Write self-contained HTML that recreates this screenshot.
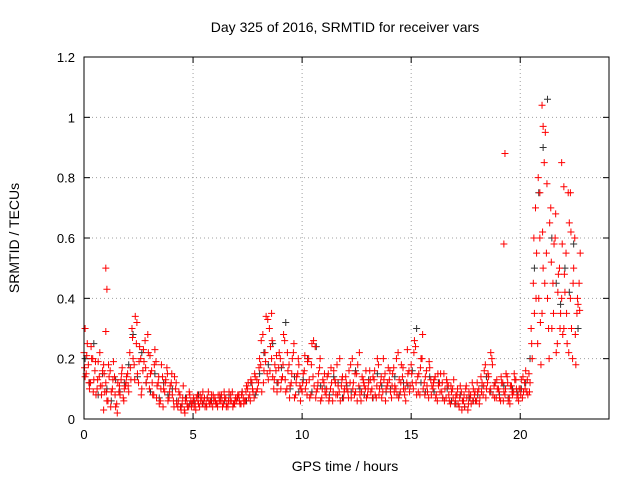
<!DOCTYPE html>
<html><head><meta charset="utf-8"><style>
body{margin:0;background:#fff}
svg{display:block;font-family:"Liberation Sans",sans-serif}
</style></head><body>
<svg id="chart" width="640" height="480">
<text x="345" y="32" font-size="14" text-anchor="middle">Day 325 of 2016, SRMTID for receiver vars</text>
<text x="345" y="471" font-size="14" text-anchor="middle">GPS time / hours</text>
<text transform="translate(19,238) rotate(-90)" font-size="14" text-anchor="middle">SRMTID / TECUs</text>
<g id="grid"></g><g id="ticks"></g><g id="marks"></g>
<rect x="84" y="57" width="525" height="362" fill="none" stroke="#000"/>
</svg>
<script>
const xTicks=[0,5,10,15,20];
const yTicks=[0,0.2,0.4,0.6,0.8,1,1.2];
const yTickLabels=["0","0.2","0.4","0.6","0.8","1","1.2"];
const step=0.1;
const redA=[.22,.15,.18,.12,.20,.16,.10,.14,.08,.18,.12,.06,.16,.10,.14,.05,.09,.13,.07,.11,.15,.22,.30,.18,.25,.12,.20,.16,.26,.14,.10,.16,.08,.19,.12,.06,.14,.09,.17,.07,.12,.06,.10,.04,.08,.05,.03,.07,.04,.06,.06,.05,.08,.04,.07,.06,.05,.09,.06,.04,.07,.05,.06,.08,.05,.07,.04,.06,.09,.05,.06,.08,.05,.07,.06,.10,.08,.12,.07,.09,.12,.18,.28,.22,.15,.30,.20,.10,.16,.12,.20,.14,.26,.10,.18,.12,.22,.08,.15,.11,.09,.16,.12,.20,.08,.14,.24,.10,.17,.07,.12,.08,.15,.10,.06,.13,.18,.09,.11,.07,.14,.09,.12,.20,.08,.15,.11,.06,.13,.10,.08,.16,.10,.13,.07,.18,.12,.09,.15,.11,.13,.07,.17,.10,.22,.09,.14,.08,.12,.16,.18,.10,.24,.14,.08,.20,.12,.16,.07,.13,.10,.14,.06,.12,.09,.15,.07,.11,.05,.10,.05,.08,.04,.09,.06,.10,.03,.07,.12,.08,.06,.10,.14,.08,.18,.12,.09,.20,.11,.07,.10,.06,.12,.08,.14,.07,.11,.09,.13,.08,.10,.07,.12,.09,.15,.30,.45,.70,.25,.60,.35,.85,.55,.30,.70,.45,.60,.25,.50,.40,.30,.55,.75,.40,.20,.60,.35,.45];
const redB=[.14,.25,.10,.20,.13,.08,.19,.11,.16,.09,.06,.14,.09,.19,.04,.12,.08,.17,.10,.14,.09,.13,.20,.34,.15,.24,.10,.19,.12,.22,.15,.08,.23,.11,.05,.18,.10,.13,.06,.11,.08,.14,.05,.09,.03,.11,.06,.04,.08,.05,.04,.07,.05,.06,.09,.04,.07,.05,.08,.06,.05,.08,.06,.04,.07,.05,.09,.06,.05,.07,.08,.05,.09,.06,.11,.07,.13,.09,.14,.10,.20,.09,.16,.34,.13,.24,.14,.18,.09,.22,.13,.28,.09,.16,.11,.20,.07,.14,.18,.10,.15,.10,.19,.07,.25,.11,.09,.15,.06,.13,.09,.14,.07,.12,.16,.08,.11,.06,.14,.10,.10,.16,.07,.12,.09,.18,.08,.14,.11,.07,.12,.09,.14,.08,.20,.10,.07,.13,.10,.17,.09,.15,.11,.08,.13,.18,.10,.06,.15,.11,.12,.26,.08,.15,.20,.10,.14,.09,.17,.11,.13,.08,.11,.15,.07,.10,.12,.06,.09,.13,.08,.05,.11,.06,.04,.07,.09,.05,.10,.06,.09,.07,.12,.16,.10,.14,.22,.08,.12,.10,.07,.12,.09,.15,.06,.11,.08,.13,.07,.10,.13,.09,.16,.08,.12,.20,.35,.55,.40,.18,.50,.95,.40,.65,.30,.58,.22,.48,.35,.28,.42,.25,.65,.30,.50,.18,.38,.55];
const redC=[.17,.21,.12,.24,.09,.19,.13,.22,.11,.15,.09,.18,.04,.13,.08,.02,.11,.15,.06,.12,.11,.17,.27,.13,.32,.19,.08,.23,.17,.28,.21,.12,.18,.07,.14,.10,.04,.12,.15,.09,.15,.04,.12,.06,.04,.07,.02,.05,.09,.04,.07,.03,.06,.08,.05,.07,.04,.06,.05,.08,.06,.04,.08,.06,.09,.04,.06,.08,.04,.06,.07,.06,.08,.05,.09,.12,.06,.10,.15,.13,.17,.26,.12,.19,.33,.16,.26,.13,.21,.17,.10,.18,.13,.22,.07,.15,.25,.12,.20,.06,.12,.21,.08,.13,.18,.26,.07,.12,.20,.10,.15,.10,.06,.17,.09,.12,.08,.20,.13,.09,.12,.07,.18,.10,.15,.06,.22,.09,.12,.16,.10,.13,.07,.16,.11,.08,.14,.20,.06,.12,.16,.11,.09,.20,.07,.12,.17,.10,.23,.09,.15,.22,.12,.09,.17,.28,.08,.11,.19,.08,.12,.07,.15,.09,.12,.06,.13,.08,.11,.07,.06,.10,.07,.03,.08,.11,.05,.08,.06,.09,.12,.05,.09,.11,.07,.15,.10,.18,.07,.13,.09,.14,.06,.10,.12,.05,.09,.15,.10,.06,.08,.14,.10,.13,.09,.25,.60,.40,.80,.32,.62,.45,.78,.20,.52,.35,.68,.42,.30,.58,.48,.35,.22,.62,.45,.28,.40,.36];
const blackVals=[.20,.12,.25,.08,.15,.10,.06,.13,.09,.12,.18,.28,.14,.22,.12,.09,.15,.07,.12,.08,.10,.06,.04,.07,.05,.06,.08,.05,.07,.06,.05,.07,.06,.08,.05,.07,.09,.06,.12,.08,.15,.22,.18,.25,.12,.17,.32,.10,.14,.09,.13,.20,.09,.24,.11,.10,.08,.14,.12,.07,.11,.09,.16,.10,.08,.13,.07,.15,.11,.09,.10,.14,.08,.12,.11,.16,.30,.12,.09,.14,.09,.12,.07,.10,.06,.05,.08,.04,.07,.06,.08,.11,.14,.09,.12,.08,.11,.07,.10,.09,.10,.12,.20,.50,.75,.90,1.06,.60,.45,.38,.50,.42,.58,.30];
const outlierHours=[1.0,1.05,19.3,19.25,21.0,21.05,21.9,20.9,22.3,1.0,0.9,22.0,0.05,8.6];
const outlierVals=[.5,.43,.88,.58,1.04,.97,.85,.75,.75,.29,.03,.77,.30,.35];
const L=84,R=609,T=57,B=419,XMAX=24.07,YMAX=1.2;
const sx=h=>L+h/XMAX*(R-L), sy=v=>B-v/YMAX*(B-T);
const NS="http://www.w3.org/2000/svg";
const grid=document.getElementById('grid'),ticks=document.getElementById('ticks'),marks=document.getElementById('marks');
function mk(tag,attrs,parent){const e=document.createElementNS(NS,tag);for(const k in attrs)e.setAttribute(k,attrs[k]);parent.appendChild(e);return e;}
xTicks.forEach(t=>{const x=sx(t);
 if(t>0){const g=mk('line',{x1:x,x2:x,y1:T,y2:B,stroke:'#a0a0a0','stroke-dasharray':'1,3'},grid);
 
 }
 mk('line',{x1:x,x2:x,y1:B,y2:B-6,stroke:'#000'},ticks);mk('line',{x1:x,x2:x,y1:T,y2:T+6,stroke:'#000'},ticks);
 const l=mk('text',{x:x,y:B+20,'font-size':13,'text-anchor':'middle'},ticks);l.textContent=t;
 
 });
yTicks.forEach((t,i)=>{const y=sy(t);
 if(t>0&&t<YMAX){const g=mk('line',{x1:L,x2:R,y1:y,y2:y,stroke:'#a0a0a0','stroke-dasharray':'1,3'},grid);
 
 }
 mk('line',{x1:L,x2:L+6,y1:y,y2:y,stroke:'#000'},ticks);mk('line',{x1:R,x2:R-6,y1:y,y2:y,stroke:'#000'},ticks);
 const l=mk('text',{x:L-9,y:y+5,'font-size':13,'text-anchor':'end'},ticks);l.textContent=yTickLabels[i];
 
 });
function plus(h,v,col,name){const x=sx(h),y=sy(v);
 const p=mk('path',{d:`M${x-3.5} ${y}h7M${x} ${y-3.5}v7`,stroke:col,'stroke-width':1,fill:'none'},marks);
 
 }
blackVals.forEach((v,i)=>plus(i*0.2+0.05,v,'#333','black-point'));
redA.forEach((v,i)=>plus(i*step,v,'#ff0000','red-point'));
redB.forEach((v,i)=>plus(i*step+0.05,v,'#ff0000','red-point'));
redC.forEach((v,i)=>plus(i*step+0.025,v,'#ff0000','red-point'));
outlierHours.forEach((h,i)=>plus(h,outlierVals[i],'#ff0000','red-outlier'));
</script>
</body></html>
